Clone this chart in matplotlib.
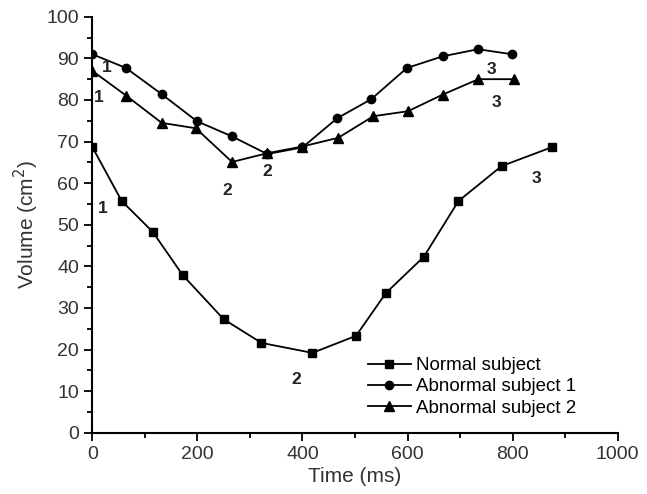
import numpy as np
import matplotlib
matplotlib.use('Agg')
import matplotlib.pyplot as plt
from matplotlib.ticker import MultipleLocator

plt.rcParams['font.family'] = ['Liberation Sans', 'DejaVu Sans']

# Normal subject
t_norm = [0, 56, 115, 172, 250, 322, 419, 502, 559, 631, 697, 779, 876]
v_norm = [68.7, 55.7, 48.3, 37.9, 27.3, 21.6, 19.2, 23.3, 33.6, 42.3, 55.7, 64.1, 68.7]

# Abnormal subject 1
t_ab1 = [0, 64, 132, 199, 265, 333, 400, 466, 531, 599, 667, 734, 799]
v_ab1 = [91.0, 87.7, 81.4, 74.9, 71.3, 67.0, 68.6, 75.6, 80.2, 87.7, 90.5, 92.2, 91.0]

# Abnormal subject 2
t_ab2 = [0, 65, 132, 197, 266, 333, 399, 468, 535, 601, 667, 735, 803]
v_ab2 = [87.0, 81.0, 74.5, 73.2, 65.1, 67.2, 68.8, 70.9, 76.1, 77.3, 81.3, 85.0, 85.0]

# phase labels (text, x, y)
phase_labels = [('1', 20, 53.8), ('2', 388, 12.9), ('3', 846, 61.2),
                ('1', 28, 87.7), ('2', 333, 62.7), ('3', 760, 87.4),
                ('1', 13, 80.5), ('2', 257, 58.3), ('3', 770, 79.5)]

fig = plt.figure(figsize=(6.47, 4.94), dpi=100)
ax = fig.add_axes([0.1427, 0.124, 0.8119, 0.842])

ax.plot(t_norm, v_norm, color='black', lw=1.3, marker='s', ms=6, label='Normal subject')
ax.plot(t_ab1, v_ab1, color='black', lw=1.3, marker='o', ms=6, label='Abnormal subject 1')
ax.plot(t_ab2, v_ab2, color='black', lw=1.3, marker='^', ms=7, label='Abnormal subject 2')

for txt, x, y in phase_labels:
    ax.text(x, y, txt, fontsize=12.5, fontweight='bold', color='#222222', ha='center', va='center')

ax.set_xlim(0, 1000)
ax.set_ylim(0, 100)
ax.xaxis.set_major_locator(MultipleLocator(200))
ax.xaxis.set_minor_locator(MultipleLocator(100))
ax.yaxis.set_major_locator(MultipleLocator(10))
ax.yaxis.set_minor_locator(MultipleLocator(5))

ax.spines['top'].set_visible(False)
ax.spines['right'].set_visible(False)
ax.spines['left'].set_linewidth(1.5)
ax.spines['bottom'].set_linewidth(1.5)
ax.tick_params(axis='both', which='major', direction='out', length=6, width=1.3,
               labelsize=14, labelcolor='#333333')
ax.tick_params(axis='both', which='minor', direction='out', length=3.5, width=1.3)

ax.set_xlabel('Time (ms)', fontsize=15, color='#333333', labelpad=3)
ax.set_ylabel('Volume (cm$^2$)', fontsize=15, color='#333333', labelpad=4)

ax.legend(loc='upper left', bbox_to_anchor=(0.51, 0.2), frameon=False, fontsize=13.5,
          handlelength=2.3, handletextpad=0.3, labelspacing=0.22, borderaxespad=0)

plt.savefig('out.png', dpi=100)
